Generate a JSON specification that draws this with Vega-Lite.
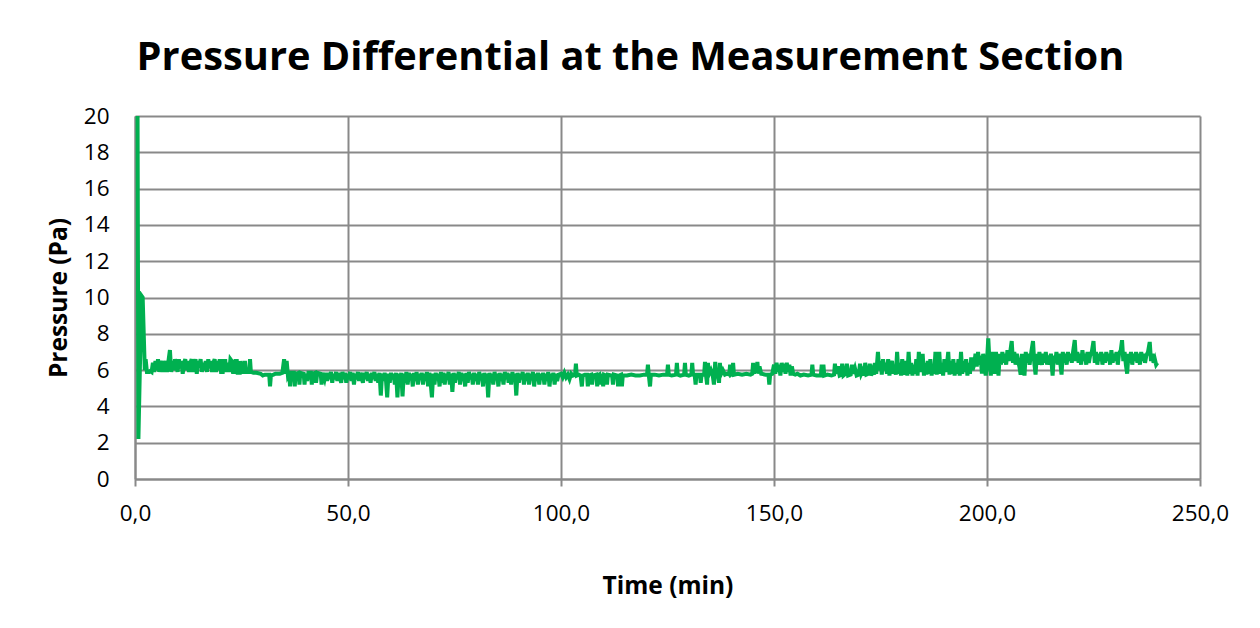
{
  "$schema": "https://vega.github.io/schema/vega-lite/v6.json",
  "width": 1065,
  "height": 363,
  "autosize": {"type": "none"},
  "padding": {"left": 135, "top": 116, "right": 60, "bottom": 149},
  "background": "white",
  "title": {
    "text": "Pressure Differential at the Measurement Section",
    "font": "Open Sans",
    "fontSize": 39.8,
    "fontWeight": "bold",
    "color": "#000000",
    "anchor": "middle",
    "offset": 26,
    "dx": -37
  },
  "config": {
    "view": {"stroke": null},
    "font": "Open Sans",
    "axis": {
      "domainColor": "#898989",
      "domainWidth": 2,
      "gridColor": "#898989",
      "gridWidth": 2,
      "tickColor": "#898989",
      "tickWidth": 2,
      "labelFont": "Open Sans",
      "labelFontSize": 22.5,
      "labelColor": "#000000",
      "titleFont": "Open Sans",
      "titleFontSize": 24.5,
      "titleFontWeight": "bold",
      "titleColor": "#000000",
      "labelOverlap": false,
      "labelFlush": false
    }
  },
  "data": {
    "values": [
      {"t":0.6,"p":20},{"t":0.8,"p":2.2},{"t":1.5,"p":10.1},{"t":1.8,"p":10.0},{"t":2.3,"p":6.0},{"t":2.5,"p":6.6},{"t":2.8,"p":5.9},
      {"t":3.0,"p":5.9},{"t":3.3,"p":5.9},{"t":3.6,"p":5.95},{"t":3.9,"p":5.9},{"t":4.2,"p":6.4},{"t":4.5,"p":5.9},{"t":4.8,"p":6.5},{"t":5.1,"p":6.0},{"t":5.4,"p":6.6},{"t":5.7,"p":5.9},{"t":6.0,"p":6.3},{"t":6.3,"p":6.5},{"t":6.6,"p":5.9},{"t":6.9,"p":6.2},{"t":7.2,"p":6.5},{"t":7.5,"p":5.9},{"t":7.8,"p":6.4},{"t":8.2,"p":7.1},{"t":8.5,"p":5.9},{"t":8.8,"p":6.5},{"t":9.1,"p":6.0},{"t":9.4,"p":6.6},{"t":9.7,"p":6.3},{"t":10.0,"p":5.9},{"t":10.3,"p":6.6},{"t":10.6,"p":6.1},{"t":10.9,"p":6.5},{"t":11.2,"p":5.8},{"t":11.5,"p":6.4},{"t":11.8,"p":6.6},{"t":12.1,"p":6.0},{"t":12.4,"p":6.5},{"t":12.7,"p":5.9},{"t":13.0,"p":6.4},{"t":13.3,"p":6.6},{"t":13.6,"p":5.9},{"t":13.9,"p":6.3},{"t":14.2,"p":6.6},{"t":14.5,"p":5.8},{"t":14.8,"p":6.5},{"t":15.1,"p":6.2},{"t":15.4,"p":6.6},{"t":15.7,"p":5.9},{"t":16.0,"p":6.4},{"t":16.3,"p":6.0},{"t":16.6,"p":6.5},{"t":16.9,"p":5.9},{"t":17.2,"p":6.6},{"t":17.5,"p":6.1},{"t":17.8,"p":6.5},{"t":18.1,"p":5.9},{"t":18.4,"p":6.4},{"t":18.7,"p":6.6},{"t":19.0,"p":5.9},{"t":19.3,"p":6.5},{"t":19.6,"p":6.0},{"t":19.9,"p":6.6},
      {"t":20.2,"p":5.9},{"t":20.6,"p":5.9},{"t":20.8,"p":6.5},{"t":21.2,"p":6.5},{"t":21.4,"p":5.9},{"t":21.8,"p":6.4},{"t":22.1,"p":5.9},{"t":22.4,"p":6.6},{"t":22.7,"p":6.5},{"t":23.0,"p":5.9},{"t":23.4,"p":5.9},{"t":23.6,"p":6.5},{"t":23.9,"p":6.5},{"t":24.1,"p":5.85},{"t":24.6,"p":5.85},{"t":24.8,"p":6.5},{"t":25.0,"p":5.9},{"t":25.6,"p":5.9},{"t":25.8,"p":6.5},{"t":26.0,"p":5.9},{"t":26.8,"p":5.9},{"t":27.0,"p":6.6},{"t":27.2,"p":5.9},{"t":27.8,"p":5.85},
      {"t":28.5,"p":5.85},{"t":29.5,"p":5.8},{"t":30.0,"p":5.7},{"t":30.5,"p":5.75},{"t":31.5,"p":5.75},{"t":31.7,"p":5.1},{"t":31.9,"p":5.7},{"t":32.5,"p":5.75},{"t":33.0,"p":5.8},{"t":34.0,"p":5.8},{"t":34.6,"p":5.85},{"t":35.0,"p":6.6},{"t":35.3,"p":5.8},{"t":35.6,"p":6.5},{"t":35.9,"p":5.7},
      {"t":36.2,"p":5.85},{"t":36.4,"p":5.1},{"t":36.6,"p":5.85},{"t":37.3,"p":5.85},{"t":37.5,"p":5.1},{"t":37.7,"p":5.8},{"t":38.4,"p":5.85},{"t":38.6,"p":5.2},{"t":38.8,"p":5.85},{"t":39.6,"p":5.8},{"t":39.8,"p":5.2},{"t":40.0,"p":5.8},{"t":40.4,"p":5.4},{"t":40.7,"p":5.85},{"t":41.3,"p":5.85},{"t":41.5,"p":5.2},{"t":41.7,"p":5.8},{"t":42.3,"p":5.85},{"t":42.5,"p":5.3},{"t":42.8,"p":5.85},{"t":43.6,"p":5.8},{"t":43.8,"p":5.2},{"t":44.0,"p":5.85},{"t":44.5,"p":5.5},{"t":44.8,"p":5.85},
      {"t":45.1,"p":5.4},{"t":45.4,"p":5.85},{"t":45.7,"p":5.5},{"t":46.0,"p":5.9},{"t":46.3,"p":5.3},{"t":46.6,"p":5.8},{"t":46.9,"p":5.5},{"t":47.2,"p":5.9},{"t":47.5,"p":5.4},{"t":47.8,"p":5.85},{"t":48.1,"p":5.6},{"t":48.4,"p":5.3},{"t":48.7,"p":5.9},{"t":49.0,"p":5.5},{"t":49.3,"p":5.85},{"t":49.6,"p":5.3},{"t":49.9,"p":5.8},{"t":50.2,"p":5.5},{"t":50.5,"p":5.9},{"t":50.8,"p":5.4},{"t":51.1,"p":5.85},{"t":51.4,"p":5.2},{"t":51.7,"p":5.8},{"t":52.0,"p":5.5},{"t":52.3,"p":5.9},{"t":52.6,"p":5.4},{"t":52.9,"p":5.85},{"t":53.2,"p":5.6},{"t":53.5,"p":5.3},{"t":53.8,"p":5.85},{"t":54.1,"p":5.5},{"t":54.4,"p":5.9},{"t":54.7,"p":5.4},{"t":55.0,"p":5.8},{"t":55.3,"p":5.3},{"t":55.6,"p":5.85},{"t":55.9,"p":5.5},{"t":56.2,"p":5.9},{"t":56.5,"p":5.4},{"t":56.8,"p":5.8},{"t":57.1,"p":5.3},{"t":57.4,"p":5.85},{"t":57.7,"p":4.6},{"t":58.0,"p":5.8},{"t":58.3,"p":5.4},{"t":58.6,"p":5.85},{"t":58.9,"p":5.5},{"t":59.2,"p":4.5},{"t":59.5,"p":5.8},{"t":59.8,"p":5.3},{"t":60.1,"p":5.85},{"t":60.4,"p":5.5},{"t":60.7,"p":5.8},{"t":61.0,"p":5.2},{"t":61.3,"p":5.85},{"t":61.6,"p":4.5},{"t":61.9,"p":5.8},
      {"t":62.2,"p":5.2},{"t":62.5,"p":5.85},{"t":62.8,"p":4.55},{"t":63.1,"p":5.8},{"t":63.4,"p":5.3},{"t":63.7,"p":5.9},{"t":64.0,"p":5.2},{"t":64.3,"p":5.85},{"t":64.6,"p":5.5},{"t":64.9,"p":5.8},{"t":65.2,"p":5.1},{"t":65.5,"p":5.85},{"t":65.8,"p":5.4},{"t":66.1,"p":5.9},{"t":66.4,"p":5.2},{"t":66.7,"p":5.8},{"t":67.0,"p":5.5},{"t":67.3,"p":5.85},{"t":67.6,"p":5.2},{"t":67.9,"p":5.8},{"t":68.2,"p":5.4},{"t":68.5,"p":5.9},{"t":68.8,"p":5.1},{"t":69.1,"p":5.85},{"t":69.4,"p":5.3},{"t":69.7,"p":4.5},{"t":70.0,"p":5.8},{"t":70.3,"p":5.2},{"t":70.6,"p":5.85},{"t":70.9,"p":5.5},{"t":71.2,"p":5.8},{"t":71.5,"p":5.1},{"t":71.8,"p":5.9},{"t":72.1,"p":5.3},{"t":72.4,"p":5.85},{"t":72.7,"p":5.2},{"t":73.0,"p":5.8},{"t":73.3,"p":5.5},{"t":73.6,"p":5.9},{"t":73.9,"p":5.2},{"t":74.2,"p":5.8},{"t":74.5,"p":4.8},{"t":74.8,"p":5.85},{"t":75.1,"p":5.3},{"t":75.4,"p":5.8},{"t":75.7,"p":5.5},{"t":76.0,"p":5.9},{"t":76.3,"p":5.2},{"t":76.6,"p":5.85},{"t":76.9,"p":5.4},{"t":77.2,"p":5.8},{"t":77.5,"p":5.1},{"t":77.8,"p":5.85},{"t":78.1,"p":5.3},{"t":78.4,"p":5.9},{"t":78.7,"p":5.5},{"t":79.0,"p":5.8},{"t":79.3,"p":5.2},{"t":79.6,"p":5.85},{"t":79.9,"p":5.4},{"t":80.2,"p":5.8},{"t":80.5,"p":5.2},{"t":80.8,"p":5.9},{"t":81.1,"p":5.5},{"t":81.4,"p":5.8},{"t":81.7,"p":5.1},{"t":82.0,"p":5.85},{"t":82.3,"p":5.3},{"t":82.6,"p":5.8},{"t":82.9,"p":4.5},{"t":83.2,"p":5.85},{"t":83.5,"p":5.4},{"t":83.8,"p":5.8},{"t":84.1,"p":5.2},{"t":84.4,"p":5.9},{"t":84.7,"p":5.5},{"t":85.0,"p":5.8},{"t":85.3,"p":5.1},{"t":85.6,"p":5.85},{"t":85.9,"p":5.4},{"t":86.2,"p":5.8},{"t":86.5,"p":5.2},{"t":86.8,"p":5.9},{"t":87.1,"p":5.5},{"t":87.4,"p":5.85},{"t":87.7,"p":5.3},{"t":88.0,"p":5.8},{"t":88.3,"p":5.2},{"t":88.6,"p":5.9},{"t":88.9,"p":5.4},{"t":89.2,"p":5.8},{"t":89.5,"p":4.6},{"t":89.8,"p":5.85},{"t":90.1,"p":5.3},{"t":90.4,"p":5.8},{"t":90.7,"p":5.5},{"t":91.0,"p":5.9},{"t":91.3,"p":5.2},{"t":91.6,"p":5.8},{"t":91.9,"p":5.4},{"t":92.2,"p":5.85},{"t":92.5,"p":5.2},{"t":92.8,"p":5.8},{"t":93.1,"p":5.5},{"t":93.4,"p":5.9},{"t":93.7,"p":5.1},{"t":94.0,"p":5.8},{"t":94.3,"p":5.4},{"t":94.6,"p":5.85},{"t":94.9,"p":5.2},{"t":95.2,"p":5.8},{"t":95.5,"p":5.5},{"t":95.8,"p":5.85},{"t":96.1,"p":5.2},{"t":96.4,"p":5.8},{"t":96.7,"p":5.4},{"t":97.0,"p":5.9},{"t":97.3,"p":5.1},{"t":97.6,"p":5.8},{"t":97.9,"p":5.5},{"t":98.2,"p":5.85},{"t":98.5,"p":5.2},{"t":98.8,"p":5.8},{"t":99.1,"p":5.4},{"t":99.4,"p":5.75},
      {"t":100.0,"p":5.8},{"t":100.4,"p":5.6},{"t":100.8,"p":5.85},{"t":101.2,"p":5.6},{"t":101.6,"p":5.75},{"t":102.0,"p":5.5},{"t":102.4,"p":5.8},{"t":102.8,"p":5.7},{"t":103.3,"p":5.75},{"t":103.5,"p":6.35},{"t":103.7,"p":5.7},{"t":104.2,"p":5.75},{"t":104.6,"p":5.7},{"t":104.9,"p":5.1},{"t":105.1,"p":5.7},{"t":105.6,"p":5.75},{"t":106.1,"p":5.75},{"t":106.3,"p":5.1},{"t":106.5,"p":5.7},{"t":107.1,"p":5.75},{"t":107.3,"p":5.2},{"t":107.5,"p":5.7},{"t":108.3,"p":5.75},{"t":108.5,"p":5.1},{"t":108.7,"p":5.7},{"t":109.0,"p":5.75},{"t":109.2,"p":5.2},{"t":109.4,"p":5.7},{"t":109.7,"p":5.7},{"t":109.9,"p":5.1},{"t":110.1,"p":5.75},{"t":110.6,"p":5.7},{"t":110.8,"p":5.2},{"t":111.0,"p":5.75},{"t":112.0,"p":5.7},{"t":112.2,"p":5.2},{"t":112.4,"p":5.75},{"t":113.2,"p":5.7},{"t":113.4,"p":5.1},{"t":113.6,"p":5.7},{"t":114.1,"p":5.75},{"t":114.3,"p":5.1},{"t":114.5,"p":5.7},{"t":115.5,"p":5.7},{"t":116.5,"p":5.75},{"t":117.5,"p":5.7},{"t":118.5,"p":5.7},{"t":119.5,"p":5.75},{"t":120.2,"p":5.75},{"t":120.4,"p":6.3},{"t":120.6,"p":5.75},{"t":120.9,"p":5.1},{"t":121.1,"p":5.75},
      {"t":122.0,"p":5.75},{"t":123.0,"p":5.7},{"t":124.0,"p":5.75},{"t":124.9,"p":5.75},{"t":125.1,"p":6.3},{"t":125.3,"p":5.75},{"t":126.0,"p":5.7},{"t":127.0,"p":5.75},{"t":127.2,"p":6.4},{"t":127.4,"p":5.75},{"t":128.0,"p":5.7},{"t":128.9,"p":5.75},{"t":129.1,"p":6.4},{"t":129.3,"p":5.75},{"t":130.0,"p":5.7},{"t":130.6,"p":5.75},{"t":130.8,"p":6.4},{"t":131.0,"p":5.75},{"t":131.4,"p":5.7},{"t":131.6,"p":5.2},{"t":131.8,"p":5.75},{"t":132.6,"p":5.75},{"t":132.8,"p":5.3},{"t":133.0,"p":5.75},{"t":133.6,"p":5.75},{"t":133.8,"p":6.45},{"t":134.0,"p":5.8},{"t":134.3,"p":5.2},{"t":134.5,"p":6.4},{"t":134.7,"p":5.75},{"t":135.2,"p":6.0},{"t":135.6,"p":5.75},{"t":135.9,"p":5.2},{"t":136.2,"p":6.45},{"t":136.4,"p":5.8},{"t":136.8,"p":5.75},{"t":137.1,"p":5.3},{"t":137.3,"p":6.4},{"t":137.5,"p":5.75},{"t":138.0,"p":6.0},{"t":138.5,"p":5.75},{"t":139.0,"p":5.8},{"t":139.5,"p":5.75},{"t":139.7,"p":6.3},{"t":139.9,"p":5.75},{"t":140.2,"p":5.8},{"t":140.4,"p":6.4},{"t":140.6,"p":5.75},{"t":141.5,"p":5.8},{"t":142.5,"p":5.75},{"t":143.5,"p":5.8},{"t":144.5,"p":5.75},{"t":144.9,"p":5.8},{"t":145.1,"p":6.4},{"t":145.3,"p":5.8},{"t":145.6,"p":6.3},{"t":145.9,"p":5.9},{"t":146.1,"p":6.45},{"t":146.3,"p":5.8},{"t":146.6,"p":6.2},{"t":147.0,"p":5.8},{"t":148.0,"p":5.75},{"t":148.7,"p":5.75},{"t":148.9,"p":5.2},{"t":149.1,"p":5.75},{"t":149.6,"p":5.8},
      {"t":150.0,"p":6.3},{"t":150.3,"p":5.8},{"t":150.6,"p":6.4},{"t":150.9,"p":5.9},{"t":151.2,"p":6.3},{"t":151.5,"p":5.7},{"t":151.8,"p":6.4},{"t":152.1,"p":5.9},{"t":152.4,"p":6.35},{"t":152.7,"p":5.8},{"t":153.0,"p":6.4},{"t":153.3,"p":5.9},{"t":153.6,"p":6.3},{"t":153.9,"p":5.7},{"t":154.2,"p":6.2},{"t":154.5,"p":5.8},
      {"t":155.0,"p":5.75},{"t":155.5,"p":5.8},{"t":156.2,"p":5.7},{"t":157.0,"p":5.75},{"t":158.0,"p":5.7},{"t":158.8,"p":5.75},{"t":159.0,"p":6.3},{"t":159.2,"p":5.75},{"t":160.0,"p":5.7},{"t":161.0,"p":5.7},{"t":161.2,"p":6.3},{"t":161.4,"p":5.8},{"t":161.6,"p":6.3},{"t":161.8,"p":5.7},{"t":162.5,"p":5.75},{"t":163.5,"p":5.7},{"t":164.1,"p":5.75},{"t":164.3,"p":6.35},{"t":164.6,"p":5.8},{"t":165.0,"p":6.2},{"t":165.4,"p":5.7},{"t":165.8,"p":5.75},{"t":166.0,"p":6.35},{"t":166.3,"p":5.7},{"t":166.8,"p":5.8},{"t":167.1,"p":6.35},{"t":167.4,"p":5.7},{"t":168.0,"p":5.75},{"t":168.3,"p":6.3},{"t":168.6,"p":5.8},{"t":169.0,"p":6.1},{"t":169.4,"p":5.7},{"t":169.9,"p":5.75},{"t":170.2,"p":6.35},{"t":170.5,"p":5.8},{"t":170.9,"p":6.0},{"t":171.2,"p":5.7},{"t":171.4,"p":6.4},{"t":171.7,"p":5.75},{"t":172.2,"p":5.8},{"t":172.5,"p":6.35},{"t":172.8,"p":5.7},{"t":173.2,"p":6.0},{"t":173.5,"p":5.75},{"t":173.7,"p":6.4},{"t":174.0,"p":5.8},
      {"t":174.4,"p":7.0},{"t":174.7,"p":6.0},{"t":175.0,"p":6.5},{"t":175.3,"p":5.75},{"t":175.6,"p":6.6},{"t":175.9,"p":6.0},{"t":176.2,"p":6.4},{"t":176.5,"p":5.8},{"t":176.8,"p":6.6},{"t":177.1,"p":5.7},{"t":177.4,"p":6.3},{"t":177.7,"p":6.5},{"t":178.0,"p":5.8},{"t":178.3,"p":6.2},{"t":178.6,"p":5.75},{"t":178.9,"p":7.0},{"t":179.2,"p":5.8},{"t":179.5,"p":6.4},{"t":179.8,"p":5.7},{"t":180.1,"p":6.6},{"t":180.4,"p":6.0},{"t":180.7,"p":5.75},{"t":181.0,"p":6.5},{"t":181.3,"p":5.7},{"t":181.6,"p":7.0},{"t":181.9,"p":5.8},{"t":182.2,"p":6.4},{"t":182.5,"p":5.7},{"t":182.8,"p":6.3},{"t":183.1,"p":5.8},{"t":183.4,"p":6.6},{"t":183.7,"p":5.7},{"t":184.0,"p":7.0},{"t":184.3,"p":5.9},{"t":184.6,"p":6.5},{"t":184.9,"p":6.9},{"t":185.2,"p":5.7},{"t":185.5,"p":6.4},{"t":185.8,"p":5.75},{"t":186.1,"p":6.5},{"t":186.4,"p":5.8},{"t":186.7,"p":6.6},{"t":187.0,"p":5.7},{"t":187.3,"p":6.3},{"t":187.6,"p":5.8},{"t":187.9,"p":7.0},{"t":188.2,"p":5.75},{"t":188.5,"p":6.5},{"t":188.8,"p":7.0},{"t":189.1,"p":5.8},{"t":189.4,"p":6.4},{"t":189.7,"p":5.7},{"t":190.0,"p":6.6},{"t":190.3,"p":5.9},{"t":190.6,"p":6.3},{"t":190.9,"p":7.0},{"t":191.2,"p":5.75},{"t":191.5,"p":6.5},{"t":191.8,"p":5.8},{"t":192.1,"p":6.6},{"t":192.4,"p":5.7},{"t":192.7,"p":6.4},{"t":193.0,"p":5.8},{"t":193.3,"p":6.6},{"t":193.6,"p":5.7},{"t":193.9,"p":7.0},{"t":194.2,"p":5.8},{"t":194.5,"p":6.5},{"t":194.8,"p":5.9},{"t":195.1,"p":6.6},{"t":195.4,"p":5.7},{"t":195.7,"p":6.4},{"t":196.0,"p":5.8},{"t":196.3,"p":6.7},{"t":196.6,"p":6.0},
      {"t":197.0,"p":6.3},{"t":197.3,"p":6.9},{"t":197.6,"p":6.2},{"t":197.9,"p":7.0},{"t":198.2,"p":6.3},{"t":198.5,"p":6.8},{"t":198.8,"p":5.8},{"t":199.1,"p":6.9},{"t":199.4,"p":6.2},{"t":199.7,"p":5.7},{"t":200.0,"p":6.5},{"t":200.3,"p":7.75},{"t":200.6,"p":6.4},{"t":200.9,"p":5.7},{"t":201.2,"p":7.0},{"t":201.5,"p":6.2},{"t":201.8,"p":5.8},{"t":202.1,"p":7.0},{"t":202.4,"p":6.3},{"t":202.7,"p":5.7},{"t":203.0,"p":6.9},{"t":203.3,"p":6.3},{"t":203.6,"p":7.0},{"t":203.9,"p":6.4},{"t":204.2,"p":6.9},{"t":204.5,"p":6.3},{"t":204.8,"p":7.1},{"t":205.1,"p":6.5},{"t":205.4,"p":6.9},{"t":205.8,"p":7.6},{"t":206.1,"p":6.4},{"t":206.4,"p":7.0},{"t":206.7,"p":6.3},{"t":207.0,"p":6.9},{"t":207.3,"p":6.5},{"t":207.6,"p":6.2},{"t":207.9,"p":5.75},{"t":208.2,"p":6.9},{"t":208.5,"p":6.3},{"t":208.8,"p":5.7},{"t":209.1,"p":7.0},{"t":209.4,"p":6.4},{"t":209.7,"p":6.9},{"t":210.0,"p":6.3},{"t":210.4,"p":7.0},{"t":210.8,"p":7.6},{"t":211.1,"p":6.4},{"t":211.4,"p":5.75},{"t":211.7,"p":6.9},{"t":212.0,"p":6.3},{"t":212.3,"p":7.0},{"t":212.6,"p":6.5},{"t":212.9,"p":6.3},{"t":213.2,"p":6.9},{"t":213.5,"p":6.4},{"t":213.8,"p":7.0},{"t":214.1,"p":6.3},{"t":214.4,"p":6.8},{"t":214.7,"p":6.3},{"t":215.0,"p":6.9},{"t":215.4,"p":5.7},{"t":215.7,"p":6.8},{"t":216.0,"p":6.4},{"t":216.3,"p":7.0},{"t":216.6,"p":6.3},{"t":216.9,"p":6.9},{"t":217.2,"p":6.4},{"t":217.5,"p":5.75},{"t":217.8,"p":7.0},{"t":218.1,"p":6.4},{"t":218.4,"p":6.9},{"t":218.7,"p":6.3},{"t":219.0,"p":7.0},{"t":219.3,"p":6.5},{"t":219.6,"p":6.9},{"t":219.9,"p":6.4},{"t":220.2,"p":7.0},{"t":220.6,"p":7.65},{"t":220.9,"p":6.5},{"t":221.2,"p":7.0},{"t":221.5,"p":6.4},{"t":221.8,"p":6.9},{"t":222.1,"p":6.3},{"t":222.4,"p":7.1},{"t":222.7,"p":6.5},{"t":223.0,"p":6.9},{"t":223.3,"p":6.3},{"t":223.6,"p":7.0},{"t":223.9,"p":6.4},{"t":224.2,"p":6.8},{"t":224.6,"p":7.0},{"t":225.0,"p":7.6},{"t":225.3,"p":6.4},{"t":225.6,"p":7.0},{"t":225.9,"p":6.3},{"t":226.2,"p":6.9},{"t":226.5,"p":6.5},{"t":226.8,"p":7.0},{"t":227.1,"p":6.3},{"t":227.4,"p":6.9},{"t":227.7,"p":6.4},{"t":228.0,"p":7.0},{"t":228.3,"p":6.5},{"t":228.6,"p":6.9},{"t":228.9,"p":6.3},{"t":229.2,"p":7.1},{"t":229.5,"p":6.4},{"t":229.8,"p":6.9},{"t":230.1,"p":6.5},{"t":230.4,"p":7.0},{"t":230.7,"p":6.3},{"t":231.0,"p":6.9},{"t":231.4,"p":7.1},{"t":231.7,"p":7.65},{"t":232.0,"p":6.5},{"t":232.3,"p":7.0},{"t":232.6,"p":6.3},{"t":232.9,"p":5.8},{"t":233.2,"p":6.9},{"t":233.5,"p":6.4},{"t":233.8,"p":7.0},{"t":234.1,"p":6.3},{"t":234.4,"p":6.9},{"t":234.7,"p":6.5},{"t":235.0,"p":7.0},{"t":235.3,"p":6.4},{"t":235.6,"p":6.9},{"t":235.9,"p":6.3},{"t":236.2,"p":7.0},{"t":236.5,"p":6.5},{"t":236.8,"p":6.9},{"t":237.1,"p":6.4},{"t":237.4,"p":6.8},{"t":237.8,"p":7.0},{"t":238.2,"p":7.55},{"t":238.5,"p":6.5},{"t":238.8,"p":6.9},{"t":239.1,"p":6.4},{"t":239.4,"p":6.6},{"t":239.7,"p":6.3},{"t":240.0,"p":6.4}
    ]
  },
  "mark": {"type": "line", "color": "#00B050", "strokeWidth": 4, "clip": true},
  "encoding": {
    "x": {
      "field": "t",
      "type": "quantitative",
      "scale": {"domain": [0, 250], "nice": false, "zero": true},
      "axis": {
        "title": "Time (min)",
        "values": [0, 50, 100, 150, 200, 250],
        "labelExpr": "replace(format(datum.value, '.1f'), '.', ',')",
        "grid": true,
        "ticks": true,
        "tickSize": 7,
        "labelPadding": 16,
        "titlePadding": 50
      }
    },
    "y": {
      "field": "p",
      "type": "quantitative",
      "scale": {"domain": [0, 20], "nice": false},
      "axis": {
        "title": "Pressure (Pa)",
        "values": [0, 2, 4, 6, 8, 10, 12, 14, 16, 18, 20],
        "grid": true,
        "ticks": false,
        "labelPadding": 26,
        "titlePadding": 12
      }
    }
  }
}
